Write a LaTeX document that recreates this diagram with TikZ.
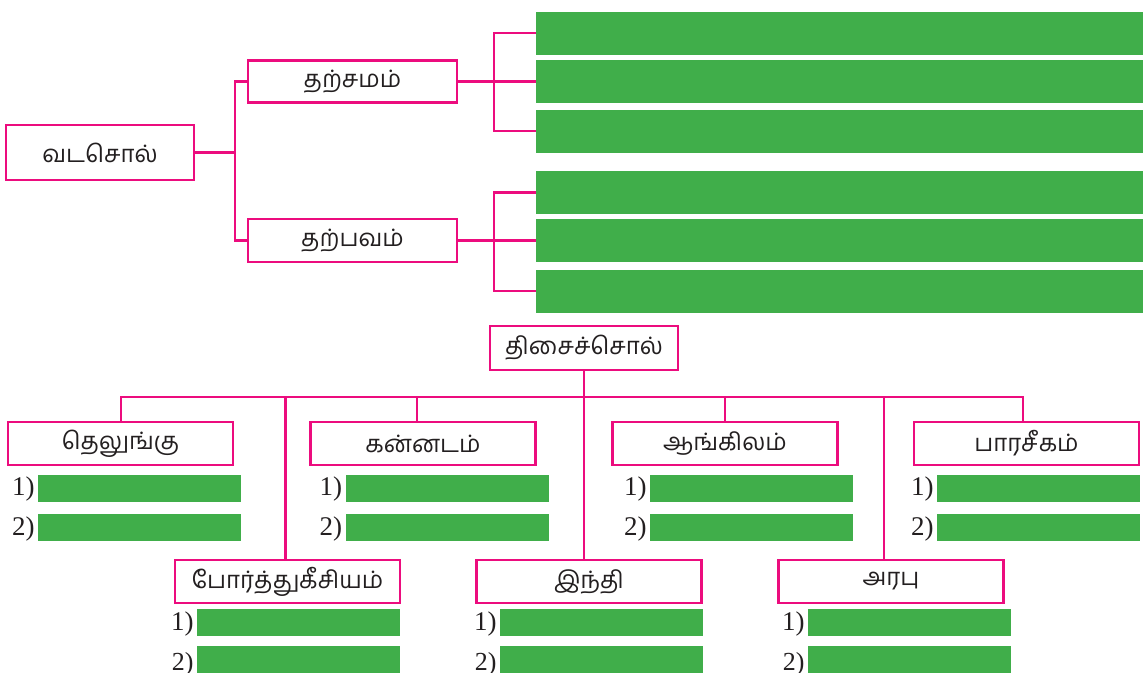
\documentclass[tikz,border=0pt]{standalone}
\usepackage{fontspec}
\setmainfont{Liberation Serif}
\newfontfamily\tamil[Script=Tamil]{Hind Madurai}
\definecolor{pinkc}{HTML}{EC0C7E}
\definecolor{greenc}{HTML}{40AE4A}
\definecolor{inkc}{HTML}{231F20}
\begin{document}
\begin{tikzpicture}[x=1pt,y=-1pt,
  wordbox/.style={draw=pinkc,line width=2.8pt,fill=white,inner sep=0pt,
    minimum width=225pt,minimum height=43pt,font=\tamil\fontsize{24}{28}\selectfont,text=inkc},
  bigbar/.style={fill=greenc,inner sep=0pt,minimum width=607pt,minimum height=43pt},
  ansbar/.style={fill=greenc,inner sep=0pt,minimum width=203pt,minimum height=27pt},
  numlbl/.style={anchor=east,inner sep=0pt,font=\fontsize{27}{30}\selectfont,text=inkc},
  link/.style={draw=pinkc,line width=2.6pt}]
\useasboundingbox (0,0) rectangle (1143,672);

% ---------- upper tree ----------
\node[wordbox,minimum width=188pt,minimum height=55pt] (vadasol) at (100,152.5) {வடசொல்};
\node[wordbox,minimum width=209pt,minimum height=42pt] (tarcamam) at (352.5,81.5) {தற்சமம்};
\node[wordbox,minimum width=209pt,minimum height=43pt] (tarpavam) at (352.5,240.5) {தற்பவம்};

\node[bigbar] (g1) at (839.5,33) {};
\node[bigbar] (g2) at (839.5,81.5) {};
\node[bigbar] (g3) at (839.5,131) {};
\node[bigbar] (g4) at (839.5,192.5) {};
\node[bigbar] (g5) at (839.5,240.5) {};
\node[bigbar] (g6) at (839.5,291) {};

\coordinate (ja) at (235,152.5);
\coordinate (jb) at (494,81.5);
\coordinate (jc) at (494,240.5);
\draw[link] (vadasol.east) -- (ja);
\draw[link] (tarcamam.west) -- (tarcamam.west -| ja) -- (tarpavam.west -| ja) -- (tarpavam.west);
\draw[link] (tarcamam.east) -- (jb) -- (g2.west);
\draw[link] (g1.west) -- (g1.west -| jb) -- (g3.west -| jb) -- (g3.west);
\draw[link] (tarpavam.east) -- (jc) -- (g5.west);
\draw[link] (g4.west) -- (g4.west -| jc) -- (g6.west -| jc) -- (g6.west);

% ---------- lower tree ----------
\node[wordbox,minimum width=188pt,minimum height=44pt] (tisai) at (584,348) {திசைச்சொல்};

\node[wordbox] (telugu) at (120.5,443.5) {தெலுங்கு};
\node[wordbox] (kannadam) at (423,443.5) {கன்னடம்};
\node[wordbox] (angilam) at (725,443.5) {ஆங்கிலம்};
\node[wordbox] (parasikam) at (1026.5,443.5) {பாரசீகம்};
\node[wordbox] (portu) at (287.5,581.5) {போர்த்துகீசியம்};
\node[wordbox] (indi) at (589,581.5) {இந்தி};
\node[wordbox] (arabu) at (891,581.5) {அரபு};

\coordinate (busL) at (121,397);
\coordinate (busM) at (584,397);
\coordinate (busR) at (1023,397);
\draw[link] (tisai.south) -- (busM);
\draw[link] (telugu.north -| busL) -- (busL) -- (busR) -- (parasikam.north -| busR);
\draw[link] ([xshift=-6pt]kannadam.north) -- ([xshift=-6pt]kannadam.north |- busM);
\draw[link] (angilam.north) -- (angilam.north |- busM);
\draw[link] ([xshift=-2pt]portu.north) -- ([xshift=-2pt]portu.north |- busM);
\draw[link] ([xshift=-5pt]indi.north) -- ([xshift=-5pt]indi.north |- busM);
\draw[link] ([xshift=-7pt]arabu.north) -- ([xshift=-7pt]arabu.north |- busM);

% answer bars
\node[ansbar] (t1) at (139.5,488.5) {};
\node[ansbar] (t2) at (139.5,527.5) {};
\node[ansbar] (k1) at (447,488.5) {};
\node[ansbar] (k2) at (447,527.5) {};
\node[ansbar] (a1) at (751.5,488.5) {};
\node[ansbar] (a2) at (751.5,527.5) {};
\node[ansbar] (p1) at (1038.5,488.5) {};
\node[ansbar] (p2) at (1038.5,527.5) {};
\node[ansbar] (o1) at (298.5,622.5) {};
\node[ansbar] (o2) at (298.5,659) {};
\node[ansbar] (i1) at (601.5,622.5) {};
\node[ansbar] (i2) at (601.5,659) {};
\node[ansbar] (r1) at (909.5,622.5) {};
\node[ansbar] (r2) at (909.5,659) {};

\foreach \b in {t,k,a,p,o,i,r}{
  \node[numlbl] at ([xshift=-3pt,yshift=-1pt]\b1.west) {1)};
}
\foreach \b in {t,k,a,p}{
  \node[numlbl] at ([xshift=-3pt,yshift=-1pt]\b2.west) {2)};
}
\foreach \b in {o,i,r}{
  \node[numlbl,font=\fontsize{26}{30}\selectfont] at ([xshift=-3pt,yshift=-5pt]\b2.west) {2)};
}
\end{tikzpicture}
\end{document}
